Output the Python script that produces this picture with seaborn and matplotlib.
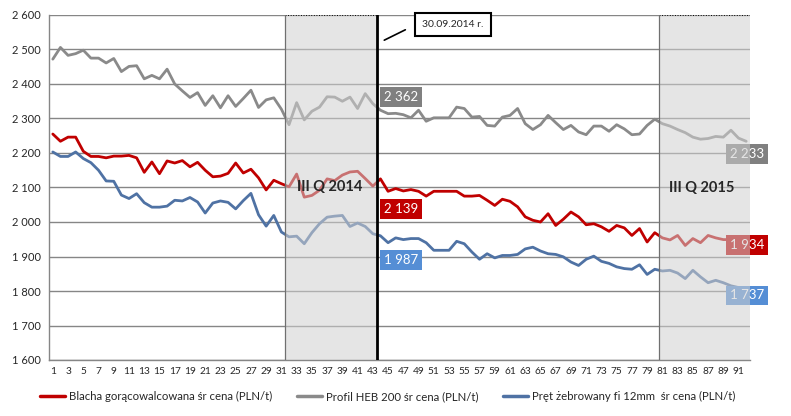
import numpy as np
import pandas as pd
import seaborn as sns
import matplotlib.pyplot as plt
from matplotlib.ticker import FixedLocator, FuncFormatter

weeks = list(range(1, 93))

blacha = [2255, 2234, 2246, 2246, 2205, 2190, 2190, 2186, 2191, 2191,
          2193, 2186, 2144, 2174, 2140, 2177, 2171, 2178, 2160, 2173,
          2150, 2131, 2133, 2141, 2171, 2142, 2153, 2128, 2093, 2121,
          2111, 2102, 2139, 2072, 2077, 2092, 2125, 2120, 2136, 2145,
          2147, 2126, 2104, 2125, 2089, 2097, 2090, 2094, 2089, 2075,
          2089, 2089, 2089, 2089, 2075, 2075, 2077, 2063, 2048, 2066,
          2060, 2044, 2015, 2005, 2000, 2024, 1990, 2008, 2029, 2015,
          1992, 1995, 1986, 1973, 1990, 1983, 1961, 1981, 1942, 1969,
          1954, 1948, 1961, 1932, 1952, 1940, 1961, 1954, 1949, 1949,
          1950, 1950]

profil = [2472, 2506, 2483, 2488, 2498, 2475, 2475, 2461, 2474, 2436,
          2451, 2453, 2415, 2425, 2415, 2443, 2400, 2380, 2361, 2375,
          2338, 2366, 2331, 2366, 2335, 2358, 2382, 2332, 2354, 2360,
          2327, 2282, 2346, 2296, 2321, 2333, 2363, 2362, 2350, 2362,
          2329, 2372, 2343, 2324, 2314, 2315, 2311, 2302, 2324, 2292,
          2302, 2302, 2302, 2333, 2329, 2304, 2306, 2280, 2278, 2304,
          2309, 2329, 2285, 2268, 2282, 2309, 2288, 2268, 2280, 2261,
          2253, 2278, 2278, 2263, 2282, 2270, 2253, 2255, 2280, 2298,
          2285, 2278, 2268, 2259, 2246, 2240, 2242, 2248, 2246, 2266,
          2243, 2234]

pret = [2203, 2190, 2190, 2203, 2184, 2172, 2150, 2119, 2118, 2078,
        2068, 2082, 2056, 2043, 2043, 2046, 2063, 2061, 2071, 2058,
        2026, 2055, 2061, 2057, 2038, 2062, 2083, 2021, 1988, 2019,
        1971, 1957, 1959, 1937, 1969, 1995, 2014, 2017, 2019, 1987,
        1997, 1987, 1966, 1960, 1940, 1954, 1949, 1952, 1952, 1940,
        1918, 1918, 1918, 1944, 1937, 1913, 1892, 1908, 1896, 1903,
        1903, 1906, 1922, 1927, 1916, 1908, 1906, 1899, 1884, 1874,
        1892, 1901, 1886, 1880, 1870, 1865, 1863, 1876, 1848, 1863,
        1858, 1860, 1852, 1836, 1860, 1841, 1824, 1831, 1824, 1815,
        1810, 1805]

series_names = ["Blacha gorącowalcowana śr cena (PLN/t)",
                "Profil HEB 200 śr cena (PLN/t)",
                "Pręt żebrowany fi 12mm  śr cena (PLN/t)"]
colors = ["#C00000", "#8A8A8A", "#4F72A4"]

# data labels: text, value position
mid_labels = ["2 362", "2 139", "1 987"]
mid_label_y = [2362, 2039, 1889]
end_labels = ["2 233", "1 934", "1 737"]
end_label_y = [2198, 1934, 1787]
label_colors = ["#808080", "#C00000", "#558ED5"]

df = pd.DataFrame({
    "week": weeks * 3,
    "value": blacha + profil + pret,
    "series": [series_names[0]] * 92 + [series_names[1]] * 92 + [series_names[2]] * 92,
})

sns.set_style("white")
plt.rcParams['font.family'] = ['Lato', 'DejaVu Sans']

fig = plt.figure(figsize=(7.91, 4.16), dpi=100)
ax = fig.add_axes([49 / 791, 1 - 360 / 416, (750 - 49) / 791, (360 - 15) / 416])

sns.lineplot(data=df, x="week", y="value", hue="series", palette=colors,
             linewidth=2, ax=ax, legend=False, zorder=2)

ax.set_xlim(0.5, 92.5)
ax.set_ylim(1600, 2600)
ax.set_xlabel("")
ax.set_ylabel("")

ax.yaxis.set_major_locator(FixedLocator(np.arange(1600, 2601, 100)))
ax.yaxis.set_major_formatter(FuncFormatter(lambda v, p: f"{v:,.0f}".replace(",", " ")))
ax.grid(axis="y", color="#868686", linewidth=1)
ax.set_axisbelow(True)

ax.set_xticks(range(1, 93, 2))
ax.set_xticks(np.arange(0.5, 93, 1), minor=True)
ax.tick_params(axis="x", which="major", length=0, labelsize=7.3, pad=5)
ax.tick_params(axis="x", which="minor", length=4, color="#868686", width=0.8, direction="out")
ax.tick_params(axis="y", length=4, color="#868686", width=0.8, labelsize=8, direction="out", pad=2)

for s in ["top", "right"]:
    ax.spines[s].set_visible(False)
for s in ["left", "bottom"]:
    ax.spines[s].set_color("#868686")
    ax.spines[s].set_linewidth(1)

# quarter shading
for x0, x1 in [(31.5, 43.5), (80.5, 92.5)]:
    ax.axvspan(x0, x1, facecolor="#D0D0D0", alpha=0.55, zorder=4, lw=0)
    ax.plot([x0, x1, x1], [2600, 2600, 1600], color="black", lw=0.7, ls=":", zorder=5)
    ax.axvline(x0, color="#707070", lw=0.9, zorder=5)

ax.axvline(43.5, color="black", lw=2, zorder=6)

ax.text(37.4, 2101, "III Q 2014", ha="center", va="center", fontsize=10.5,
        fontweight="bold", zorder=7)
ax.text(86.1, 2099, "III Q 2015", ha="center", va="center", fontsize=10.5,
        fontweight="bold", zorder=7)

for txt, yv, c in zip(mid_labels, mid_label_y, label_colors):
    ax.text(46.7, yv, txt, ha="center", va="center", color="white", fontsize=9.5,
            zorder=3, bbox=dict(boxstyle="square,pad=0.3", fc=c, ec="none"))
for txt, yv, c in zip(end_labels, end_label_y, label_colors):
    ax.text(92.1, yv, txt, ha="center", va="center", color="white", fontsize=9.5,
            zorder=3, clip_on=False, bbox=dict(boxstyle="square,pad=0.3", fc=c, ec="none"))

ax.annotate("30.09.2014 r.", xy=(44.5, 2527), xytext=(53.5, 2572),
            ha="center", va="center", fontsize=7.5, annotation_clip=False, zorder=8,
            bbox=dict(boxstyle="square,pad=0.7", fc="white", ec="black", lw=1.5),
            arrowprops=dict(arrowstyle="-", color="black", lw=1.2,
                            relpos=(0, 0.85), shrinkA=7, shrinkB=0))

handles = [plt.Line2D([], [], color=c, lw=2.5) for c in colors]
fig.legend(handles, series_names, loc="center", bbox_to_anchor=(0.49, 0.046),
           ncol=3, frameon=False, fontsize=8.2, handlelength=2.2,
           handletextpad=0.3, columnspacing=2.2)

fig.savefig("out.png", dpi=100)
